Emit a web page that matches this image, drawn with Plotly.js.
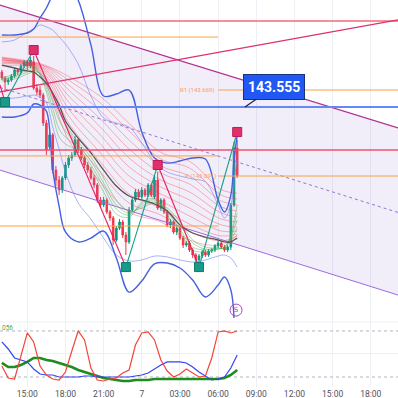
<!DOCTYPE html>
<html><head><meta charset="utf-8">
<script src="https://cdn.plot.ly/plotly-3.0.1.min.js"></script>
<style>html,body{margin:0;padding:0;background:#fff}#chart{width:398px;height:398px}</style>
</head><body><div id="chart"></div>
<script>
// ---- time axis (hours since 12:00 of day 6) ----
const tickHours = [3,6,9,12,15,18,21,24,27,30];
const tickLabels = ["15:00","18:00","21:00","7","03:00","06:00","09:00","12:00","15:00","18:00"];
const viewHours = [0.854, 32.14];

// ---- 15-minute candles ----
const candleHours = [1,1.25,1.5,1.75,2,2.25,2.5,2.75,3,3.25,3.5,3.75,4,4.25,4.5,4.75,5,5.25,5.5,5.75,6,6.25,6.5,6.75,7,7.25,7.5,7.75,8,8.25,8.5,8.75,9,9.25,9.5,9.75,10,10.25,10.5,10.75,11,11.25,11.5,11.75,12,12.25,12.5,12.75,13,13.25,13.5,13.75,14,14.25,14.5,14.75,15,15.25,15.5,15.75,16,16.25,16.5,16.75,17,17.25,17.5,17.75,18,18.25,18.5,18.75,19,19.25,19.5];
const openP = [143.790,143.750,143.723,143.736,143.763,143.804,143.790,143.830,143.857,143.830,
143.857,143.682,143.669,143.635,143.447,143.286,143.367,143.131,143.064,142.997,
143.078,143.165,143.212,143.232,143.333,143.266,143.212,143.165,143.131,143.078,
143.031,142.930,142.896,142.930,142.849,142.809,142.661,142.741,142.782,142.694,
142.648,142.863,142.930,142.984,142.950,142.997,142.963,143.031,142.950,143.064,
142.876,142.930,142.849,142.762,142.782,142.715,142.741,142.674,142.627,142.641,
142.594,142.560,142.527,142.553,142.580,142.560,142.587,142.594,142.621,142.641,
142.614,142.594,142.614,142.896,143.279];
const highP = [143.804,143.763,143.750,143.777,143.817,143.817,143.844,143.871,143.871,143.891,
143.898,143.709,143.696,143.649,143.467,143.387,143.380,143.158,143.091,143.091,
143.185,143.232,143.252,143.360,143.346,143.286,143.232,143.185,143.152,143.098,
143.044,142.950,142.950,142.943,142.863,142.822,142.755,142.802,142.795,142.715,
142.883,142.950,143.004,143.004,143.017,143.010,143.044,143.044,143.098,143.118,
142.943,142.943,142.863,142.802,142.795,142.755,142.755,142.688,142.654,142.654,
142.607,142.574,142.567,142.594,142.594,142.600,142.607,142.634,142.654,142.654,
142.627,142.627,142.910,143.320,143.333];
const lowP = [143.736,143.656,143.703,143.723,143.750,143.770,143.777,143.817,143.804,143.817,
143.669,143.635,143.615,143.427,143.232,143.266,143.111,143.024,142.963,142.977,
143.064,143.145,143.192,143.219,143.246,143.199,143.145,143.111,143.064,143.010,
142.910,142.876,142.883,142.836,142.789,142.627,142.648,142.728,142.674,142.560,
142.634,142.849,142.916,142.937,142.937,142.950,142.950,142.950,142.937,142.863,
142.856,142.836,142.748,142.741,142.701,142.694,142.661,142.607,142.614,142.580,
142.540,142.513,142.500,142.540,142.547,142.547,142.574,142.580,142.607,142.600,
142.580,142.580,142.594,142.883,143.078];
const closeP = [143.750,143.723,143.736,143.763,143.804,143.790,143.830,143.857,143.830,143.871,
143.682,143.656,143.635,143.447,143.266,143.367,143.131,143.064,142.997,143.078,
143.165,143.212,143.232,143.333,143.266,143.212,143.165,143.131,143.078,143.031,
142.930,142.896,142.930,142.849,142.809,142.661,142.741,142.782,142.694,142.648,
142.863,142.930,142.984,142.950,142.997,142.963,143.031,142.963,143.064,142.876,
142.930,142.849,142.762,142.782,142.715,142.741,142.674,142.627,142.641,142.594,
142.560,142.527,142.553,142.580,142.560,142.587,142.594,142.621,142.641,142.614,
142.594,142.614,142.896,143.279,143.091];

// ---- bands / averages ----
const bandHours = [1,2,3,3.5,4,4.5,5,5.5,6,7,8,9,10,11,12,13,14,15,16,17,18,18.5,19,19.25,19.5];
const lowerBandHours = [1,2,3,3.5,4,4.5,5,5.5,6,7,8,9,10,11,12,13,14,15,16,17,18,18.5,19,19.25];
const bbUpper = [144.039,144.039,144.052,144.079,144.153,144.220,144.314,144.408,144.435,144.274,143.972,143.629,143.642,143.669,143.387,143.212,143.178,143.192,143.212,143.205,142.930,142.849,142.963,143.199,143.366];
const bbLower = [143.488,143.488,143.515,143.575,143.568,143.528,143.131,142.889,142.715,142.648,142.674,142.721,142.540,142.311,142.385,142.500,142.506,142.473,142.392,142.278,142.358,142.412,142.325,142.137];
const innerUpper = [143.992,144.005,144.059,144.079,144.106,144.093,144.072,144.025,143.978,143.844,143.629,143.481,143.447,143.420,143.313,143.185,143.118,143.091,143.071,143.051,142.896,142.809,142.896,143.064,143.199];
const innerLower = [143.615,143.615,143.629,143.635,143.622,143.582,143.420,143.273,143.118,142.910,142.802,142.674,142.560,142.520,142.527,142.553,142.547,142.527,142.513,142.527,142.553,142.560,142.540,142.513,142.479];
const slowMA = [143.837,143.817,143.797,143.790,143.756,143.716,143.649,143.568,143.461,143.346,143.246,143.131,143.024,142.957,142.930,142.903,142.856,142.762,142.708,142.681,142.661,142.648,142.648,142.661,142.674];
const greenRibbon = [
 [143.750,143.777,143.817,143.831,143.770,143.656,143.501,143.353,143.306,143.259,143.138,142.984,142.836,142.815,142.916,142.937,142.829,142.715,142.594,142.580,142.600,142.614,142.694,142.795,142.896],
 [143.743,143.763,143.804,143.817,143.777,143.682,143.548,143.407,143.353,143.279,143.165,143.017,142.869,142.829,142.903,142.930,142.849,142.734,142.614,142.594,142.600,142.614,142.681,142.762,142.842],
 [143.736,143.756,143.790,143.804,143.777,143.709,143.588,143.467,143.393,143.299,143.192,143.044,142.896,142.842,142.889,142.916,142.863,142.762,142.641,142.600,142.607,142.607,142.674,142.734,142.795],
 [143.729,143.743,143.777,143.790,143.783,143.736,143.635,143.521,143.440,143.319,143.219,143.078,142.930,142.856,142.876,142.910,142.876,142.782,142.661,142.614,142.607,142.607,142.661,142.701,142.741]
];
const ribbonHours = [1,3.5,4.75,6.25,8.75,11,13.5,15.75,18.25,19.5];
const redRibbon = [
 [143.830,143.817,143.656,143.333,143.051,142.849,142.782,142.661,142.627,142.694],
 [143.844,143.824,143.689,143.394,143.118,142.910,142.829,142.715,142.654,142.688],
 [143.851,143.830,143.716,143.447,143.185,142.970,142.876,142.768,142.688,142.701],
 [143.857,143.830,143.736,143.494,143.246,143.031,142.923,142.822,142.721,142.721],
 [143.864,143.837,143.756,143.541,143.306,143.091,142.970,142.876,142.762,142.748],
 [143.871,143.837,143.770,143.588,143.367,143.152,143.017,142.930,142.802,142.782],
 [143.871,143.844,143.783,143.629,143.420,143.212,143.064,142.984,142.842,142.816],
 [143.877,143.844,143.797,143.669,143.474,143.273,143.111,143.037,142.883,142.856],
 [143.884,143.851,143.810,143.703,143.528,143.333,143.158,143.091,142.923,142.896],
 [143.884,143.851,143.817,143.736,143.582,143.394,143.205,143.145,142.963,142.937],
 [143.890,143.858,143.824,143.760,143.625,143.445,143.250,143.190,143.000,142.975]
];

// ---- drawn lines and levels ----
const channelUpper = [144.240, 143.414];
const channelMid = [143.686, 142.846];
const channelLower = [143.131, 142.291];
const risingLine = [143.656, 144.140];
const fullLevels = [144.133, 143.266, 143.555];      // pink top, red, blue
const oldPivotHours = [0.854, 18.0];
const oldPivots = [144.025, 143.226, 142.755];
const newPivotHours = [18.0, 32.14];
const newPivots = [143.669, 143.091];                 // R1, P
const pivotNames = ["R1 (143.669)", "P (143.091)"];
const calloutPrice = 143.555;
const calloutHour = 20.11;

// ---- zigzag swing points ----
const swingHours = [0.854, 1.25, 3.5, 10.75, 13.25, 16.5, 19.5];
const swingPrices = [143.703, 143.588, 143.938, 142.479, 143.165, 142.479, 143.387];
const highMarkHours = [3.5, 13.25, 19.5];
const highMarkPrices = [143.938, 143.165, 143.387];
const lowMarkHours = [1.25, 10.75, 16.5];
const lowMarkPrices = [143.588, 142.479, 142.479];
const iconHours = [19.41];
const iconPrices = [142.19];

// ---- oscillator pane ----
const oscHours = [1,1.5,2,2.5,3,3.5,4,4.5,5,5.5,6,6.5,7,7.5,8,8.5,9,9.5,10,10.5,11,11.5,12,12.5,13,13.5,14,14.5,15,15.5,16,16.5,17,17.5,18,18.5,19,19.5];
const oscRed = [34.3,18.7,17.4,48.7,77.4,65.7,34.3,22.6,17.4,16.1,26.5,53.9,80.0,68.3,31.7,16.1,14.8,17.4,18.7,25.2,29.1,61.7,77.4,78.7,68.3,42.2,27.8,20.0,23.9,30.4,25.2,20.0,21.3,44.8,78.7,80.0,77.4,80.0];
const oscBlue = [65.7,56.5,44.8,42.2,39.6,30.4,23.9,22.6,22.6,20.0,20.0,20.0,20.0,21.3,21.3,20.0,20.0,20.0,20.0,20.0,20.0,21.3,22.6,25.2,30.4,35.7,39.6,39.6,39.6,38.3,33.0,26.5,21.3,16.1,17.4,20.0,31.7,48.7];
const oscGreen = [38.3,33.0,33.0,35.7,39.6,44.8,44.8,42.2,40.9,38.3,35.7,33.0,29.1,26.5,23.9,21.3,18.7,17.4,16.1,14.8,14.8,16.1,16.1,16.1,17.4,17.4,17.4,17.4,17.4,17.4,17.4,17.4,17.4,17.4,17.4,18.7,22.6,29.1];
const oscLevels = [80, 20];

// ================= traces =================
const traces = [];
const L = (x, y, color, width, extra) => Object.assign({type:'scatter', mode:'lines', x:x, y:y,
  line:{color:color, width:width}, hoverinfo:'skip', xaxis:'x', yaxis:'y'}, extra||{});

// channel fill
traces.push(L(viewHours, channelLower, '#9c6ade', 1));
traces.push(L(viewHours, channelUpper, '#b0308f', 1.2, {fill:'tonexty', fillcolor:'rgba(149,117,205,0.13)'}));
traces.push(L(viewHours, channelMid, '#9575cd', 1, {line:{color:'#9575cd', width:1, dash:'dot'}}));

// ribbons
redRibbon.forEach(r => traces.push(L(ribbonHours, r, '', 0.8, {line:{color:'rgba(242,54,69,0.45)', width:0.8, shape:'spline'}})));
greenRibbon.forEach(g => traces.push(L(bandHours, g, '', 0.8, {line:{color:'rgba(76,175,80,0.6)', width:0.8, shape:'spline'}})));

// bands
traces.push(L(bandHours, innerUpper, '', 1, {line:{color:'rgba(110,130,240,0.6)', width:1, shape:'spline'}}));
traces.push(L(bandHours, innerLower, '', 1, {line:{color:'rgba(110,130,240,0.6)', width:1, shape:'spline'}}));
traces.push(L(bandHours, bbUpper, '', 1.4, {line:{color:'#4460e0', width:1.4, shape:'spline'}}));
traces.push(L(lowerBandHours, bbLower, '', 1.4, {line:{color:'#4460e0', width:1.4, shape:'spline'}}));
traces.push(L(bandHours, slowMA, '', 1.3, {line:{color:'#555555', width:1.3, shape:'spline'}}));

// levels
traces.push(L(viewHours, [fullLevels[0], fullLevels[0]], '#f06a7a', 1.5));
traces.push(L(viewHours, risingLine, '#e0306a', 1.2));
oldPivots.forEach(v => traces.push(L(oldPivotHours, [v, v], '#ffa040', 1)));
newPivots.forEach(v => traces.push(L(newPivotHours, [v, v], '#f7a24b', 1)));
traces.push(L(viewHours, [fullLevels[1], fullLevels[1]], '#f0506e', 1.4));
traces.push(L(viewHours, [fullLevels[2], fullLevels[2]], '#6688f5', 2));

// candles
traces.push({type:'candlestick', x:candleHours, open:openP, high:highP, low:lowP, close:closeP,
  increasing:{line:{color:'#089981', width:1}, fillcolor:'#089981'},
  decreasing:{line:{color:'#f23645', width:1}, fillcolor:'#f23645'},
  whiskerwidth:0, hoverinfo:'skip', xaxis:'x', yaxis:'y'});

// zigzag
for (let i = 0; i < swingHours.length - 1; i++) {
  const up = swingPrices[i+1] > swingPrices[i];
  traces.push(L(swingHours.slice(i, i+2), swingPrices.slice(i, i+2), up ? '#1b9e8a' : '#e91e63', 1.1));
}
traces.push({type:'scatter', mode:'markers', x:highMarkHours, y:highMarkPrices, xaxis:'x', yaxis:'y', hoverinfo:'skip',
  marker:{symbol:'square', size:9, color:'#e0306a', line:{color:'#c2185b', width:1}}});
traces.push({type:'scatter', mode:'markers', x:lowMarkHours, y:lowMarkPrices, xaxis:'x', yaxis:'y', hoverinfo:'skip',
  marker:{symbol:'square', size:9, color:'#1a9a88', line:{color:'#0b7a6a', width:1}}});
traces.push({type:'scatter', mode:'markers+text', x:iconHours, y:iconPrices, xaxis:'x', yaxis:'y', hoverinfo:'skip',
  text:['S'], textposition:'middle center', textfont:{size:7, color:'#ab47bc', family:'DejaVu Sans'},
  marker:{symbol:'circle-open', size:12, color:'#ab47bc', line:{width:1}}});

// oscillator
const O = (y, color, width) => ({type:'scatter', mode:'lines', x:oscHours, y:y,
  line:{color:color, width:width}, hoverinfo:'skip', xaxis:'x2', yaxis:'y2'});
oscLevels.forEach(v => traces.push({type:'scatter', mode:'lines', x:viewHours, y:[v, v], xaxis:'x2', yaxis:'y2',
  hoverinfo:'skip', line:{color:'#b2b5be', width:1, dash:'dot'}}));
traces.push(O(oscGreen, '#1e8c1e', 2.6));
traces.push(O(oscBlue, '#3344ee', 1.2));
traces.push(O(oscRed, '#f44336', 1.2));

const layout = {
  width:398, height:398,
  margin:{l:0, r:0, t:0, b:11},
  paper_bgcolor:'#ffffff', plot_bgcolor:'#ffffff',
  showlegend:false,
  xaxis:{domain:[0,1], range:viewHours, anchor:'y', showticklabels:false, showgrid:true, gridcolor:'#eef0f5',
    tickvals:tickHours, zeroline:false, rangeslider:{visible:false}, showline:false},
  yaxis:{domain:[0.168,1], range:[142.110,144.274], showticklabels:false, showgrid:false, zeroline:false},
  xaxis2:{domain:[0,1], range:viewHours, anchor:'y2', tickvals:tickHours, ticktext:tickLabels, ticks:'',
    tickfont:{size:8.5, color:'#50535e', family:'Roboto'}, showgrid:true, gridcolor:'#eef0f5', zeroline:false,
    rangeslider:{visible:false}, showline:false},
  yaxis2:{domain:[0,0.168], range:[6.96,91.7], showticklabels:false, showgrid:true, gridcolor:'#eef0f5',
    tickvals:[50], zeroline:false},
  shapes:[{type:'line', xref:'paper', x0:0, x1:1, yref:'y2 domain', y0:1, y1:1, line:{color:'#eef0f5', width:1}}],
  annotations:[
    {x:calloutHour, y:calloutPrice, xref:'x', yref:'y', text:'<b>' + calloutPrice.toFixed(3) + '</b>',
     showarrow:true, arrowhead:0, arrowwidth:1.2, arrowcolor:'#1b2440', ax:29, ay:-20,
     bgcolor:'#2157f3', bordercolor:'#17357f', borderwidth:1, borderpad:4,
     font:{color:'#ffffff', size:14, family:'Roboto'}},
    {x:16.34, y:newPivots[0], xref:'x', yref:'y', text:pivotNames[0], showarrow:false,
     font:{size:6, color:'#f5a25a', family:'Roboto'}},
    {x:16.6, y:newPivots[1], xref:'x', yref:'y', text:pivotNames[1], showarrow:false,
     font:{size:6, color:'#f5a25a', family:'Roboto'}},
    {xref:'paper', x:0, xanchor:'left', y:84, yref:'y2', text:'056', showarrow:false,
     font:{size:6.5, color:'#4caf50', family:'Roboto'}}
  ]
};

Plotly.newPlot('chart', traces, layout, {staticPlot:true, displayModeBar:false});
</script>
</body></html>
